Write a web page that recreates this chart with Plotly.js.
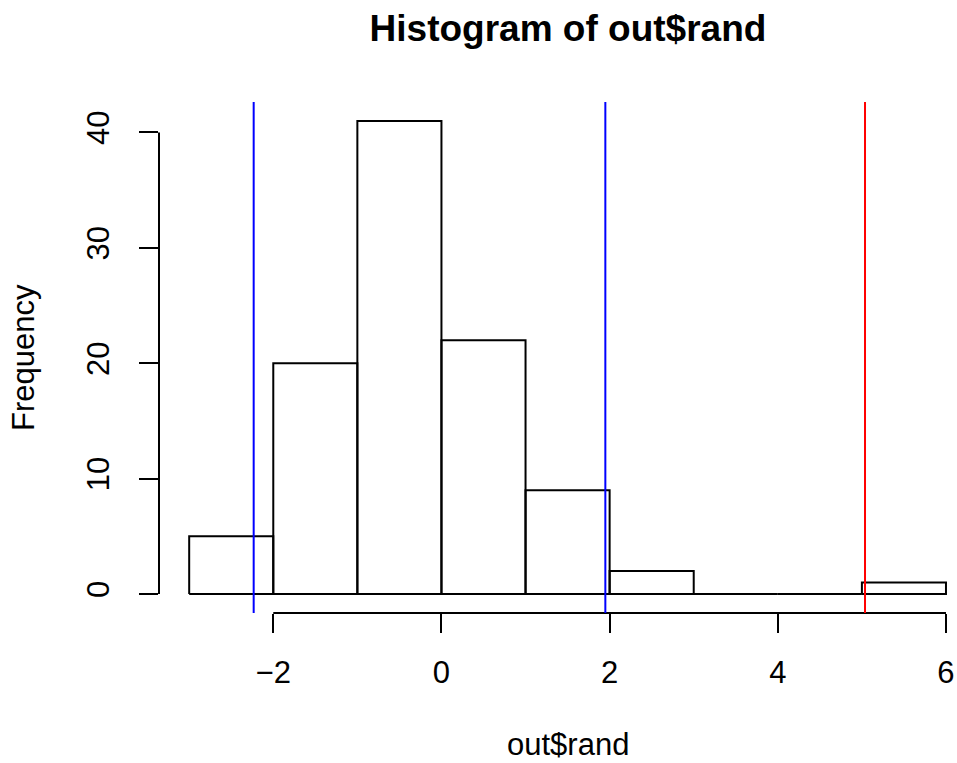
<!DOCTYPE html>
<html>
<head>
<meta charset="utf-8">
<script src="https://cdn.plot.ly/plotly-3.0.1.min.js"></script>
<style>
html,body{margin:0;padding:0;background:#fff;overflow:hidden;}
#chart{width:957px;height:763px;}
</style>
</head>
<body>
<div id="chart"></div>
<script>
// ---- data ----
const breaks = [-3, -2, -1, 0, 1, 2, 3, 4, 5, 6];
const counts = [5, 20, 41, 22, 9, 2, 0, 0, 1];
const xTickVals = [-2, 0, 2, 4, 6];
const xTickText = ["\u22122", "0", "2", "4", "6"];
const yTickVals = [0, 10, 20, 30, 40];
const yTickText = ["0", "10", "20", "30", "40"];
const blueLines = [-2.233, 1.949];
const redLines = [5.037];
const titleText = "Histogram of out$rand";
const xLabel = "out$rand";
const yLabel = "Frequency";

// ---- build histogram rectangles (R style outline) ----
const hx = [], hy = [];
for (let i = 0; i < counts.length; i++) {
  const l = breaks[i], r = breaks[i + 1], c = counts[i];
  hx.push(l, l, r, r, l, null);
  hy.push(0, c, c, 0, 0, null);
}

const font = "Liberation Sans, Arial, Helvetica, sans-serif";
const black = "#000000";

const shapes = [];
// x axis line (from first to last tick, R style)
shapes.push({type: "line", xref: "x", yref: "paper",
  x0: xTickVals[0], x1: xTickVals[xTickVals.length - 1], y0: 0, y1: 0,
  line: {color: black, width: 2}});
// y axis line
shapes.push({type: "line", xref: "paper", yref: "y",
  x0: 0, x1: 0, y0: yTickVals[0], y1: yTickVals[yTickVals.length - 1],
  line: {color: black, width: 2}});
blueLines.forEach(v => shapes.push({type: "line", xref: "x", yref: "paper",
  x0: v, x1: v, y0: 0, y1: 1, line: {color: "#0000FF", width: 2}}));
redLines.forEach(v => shapes.push({type: "line", xref: "x", yref: "paper",
  x0: v, x1: v, y0: 0, y1: 1, line: {color: "#FF0000", width: 2}}));

const ymax = Math.max(...counts);
const yr = [0 - 0.04 * ymax, ymax * 1.04];

const layout = {
  width: 957, height: 763,
  margin: {l: 159, r: 0, t: 102, b: 150, pad: 0},
  paper_bgcolor: "#ffffff", plot_bgcolor: "#ffffff",
  showlegend: false,
  font: {family: font, color: black, size: 31},
  title: {text: "<b>" + titleText + "</b>", font: {family: font, size: 37, color: black},
    xref: "paper", x: 0.5125, xanchor: "center",
    yref: "container", y: 1 - 28 / 763, yanchor: "middle"},
  xaxis: {range: [-3.359, 6.131], showgrid: false, zeroline: false, showline: false,
    tickmode: "array", tickvals: xTickVals, ticktext: xTickText,
    ticks: "outside", ticklen: 19, tickwidth: 2, tickcolor: black,
    tickfont: {family: font, size: 31, color: black}, ticklabelstandoff: 13},
  yaxis: {range: yr, showgrid: false, zeroline: false, showline: false,
    tickmode: "array", tickvals: yTickVals, ticktext: yTickText, tickangle: -90,
    ticks: "outside", ticklen: 19, tickwidth: 2, tickcolor: black,
    tickfont: {family: font, size: 31, color: black}, ticklabelstandoff: 18},
  shapes: shapes,
  annotations: [
    {text: xLabel, xref: "paper", yref: "paper", x: 0.5125, y: -(744 - 612.7) / 510.7,
     xanchor: "center", yanchor: "middle", showarrow: false,
     font: {family: font, size: 31, color: black}},
    {text: yLabel, xref: "paper", yref: "paper", x: -(159 - 23.5) / 798, y: 0.5,
     xanchor: "center", yanchor: "middle", textangle: -90, showarrow: false,
     font: {family: font, size: 31, color: black}}
  ]
};

const traces = [{
  type: "scatter", mode: "lines", x: hx, y: hy, connectgaps: false,
  line: {color: black, width: 2}, hoverinfo: "skip", cliponaxis: false
}];

Plotly.newPlot("chart", traces, layout, {displayModeBar: false, staticPlot: true});
</script>
</body>
</html>
